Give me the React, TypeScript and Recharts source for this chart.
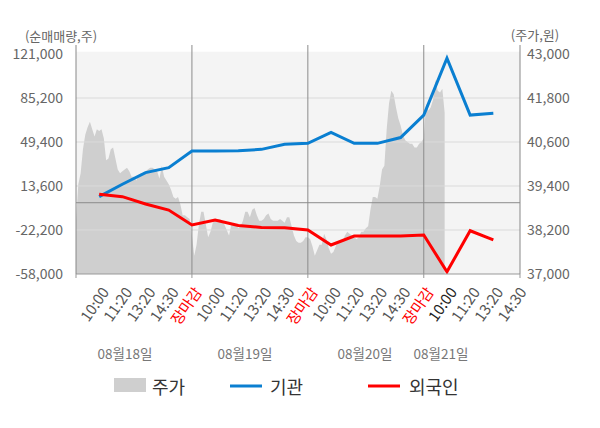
import React from "react";
import {
  ComposedChart, Area, Line, XAxis, YAxis, ReferenceLine, ReferenceArea,
} from "recharts";

// x axis: one slot per time label, day boundaries at 0, 5, 10, 15
const tickLabels = [
  "10:00", "11:20", "13:20", "14:30", "장마감",
  "10:00", "11:20", "13:20", "14:30", "장마감",
  "10:00", "11:20", "13:20", "14:30", "장마감",
  "10:00", "11:20", "13:20", "14:30",
];
const dayBoundaries = [0, 5, 10, 15];
const dateLabels = ["08월18일", "08월19일", "08월20일", "08월21일"];
const currentSlot = 16;

const leftTicks = [-58000, -22200, 13600, 49400, 85200, 121000];
const rightTicks = [37000, 38200, 39400, 40600, 41800, 43000];

// 순매매량 (주), one value per slot 1..18
const institution = [
  4900, 15000, 24500, 28500, 42100, 42100, 42300, 43400, 47500,
  48300, 57300, 48300, 48300, 53000, 71300, 117500, 71300, 72700,
];
const foreign = [
  6900, 4900, -1000, -6000, -18100, -14100, -18500, -20200, -20300,
  -22200, -34400, -27100, -27100, -27100, -26300, -56200, -22800, -30300,
];

// 주가 (원), sampled every 0.1 slot
const priceDay1 = [
  38450, 39450, 39750, 40400, 40800, 41000, 41150, 40950, 40750, 40950,
  40900, 40950, 40700, 40100, 40150, 40400, 40450, 40150, 39850, 39750,
  39800, 39850, 39900, 39800, 39650, 39650, 39550, 39700, 39750, 39750,
  39800, 39850, 39900, 39900, 39850, 39800, 39600, 39950, 39650, 39550,
  39450, 39300, 39100, 39050, 39100, 38900, 38600, 38600, 38550, 38500,
];
const priceDay2 = [
  38050, 37500, 37800, 38350, 38700, 38700, 38350, 38000, 38150, 38400,
  38450, 38500, 38500, 38450, 38350, 38200, 38050, 38350, 38400, 38350,
  38250, 38300, 38450, 38700, 38700, 38550, 38750, 38800, 38600, 38450,
  38450, 38500, 38600, 38650, 38500, 38450, 38450, 38450, 38500, 38450,
  38400, 38550, 38550, 38300, 38050, 37900, 37850, 37850, 37900, 38000,
];
const priceDay3 = [
  38000, 37950, 37750, 37500, 37650, 37800, 37800, 38100, 37950, 37700,
  37550, 37600, 37750, 37900, 37900, 37900, 38050, 38150, 38100, 38050,
  38000, 37950, 38000, 38150, 38150, 38250, 38300, 38750, 39100, 39100,
  39050, 39400, 39850, 39950, 40950, 41650, 42000, 41900, 41550, 41250,
  41050, 40800, 40650, 40600, 40550, 40550, 40450, 40450, 40550, 40600,
];
const priceDay4 = [40700, 41650, 41450, 41550, 41750, 42300, 42000, 41950, 42050, 41400];

const X_MAX = 19.15;
const FONT = "'Noto Sans CJK KR', 'Noto Sans', sans-serif";
const BLUE = "#0a7fd1";
const RED = "#ff0000";

const price = [...priceDay1, ...priceDay2, ...priceDay3, ...priceDay4];
const rows = new Map<number, Record<string, number>>();
price.forEach((p, k) => rows.set(k, { slot: k / 10, price: p }));
institution.forEach((v, i) => {
  const key = (i + 1) * 10;
  const r = rows.get(key) ?? { slot: i + 1 };
  r.inst = v;
  r.frgn = foreign[i];
  rows.set(key, r);
});
const chartData = [...rows.entries()].sort((a, b) => a[0] - b[0]).map((e) => e[1]);

const xTicks = [...tickLabels.map((_, i) => i), tickLabels.length, X_MAX];

function TimeTick(props: any) {
  const { x, y, payload } = props;
  const v = payload.value as number;
  const mark = dayBoundaries.includes(v) || v === X_MAX;
  const label = Number.isInteger(v) && v >= 1 ? tickLabels[v - 1] : null;
  const color = label === "장마감" ? RED : v === currentSlot ? "#222" : "#555";
  const ax = x + 2;
  const ay = y + 12;
  return (
    <g>
      {mark && <line x1={x} y1={y} x2={x} y2={y + 4} stroke="#999" />}
      {label && (
        <text x={ax} y={ay} transform={`rotate(-55 ${ax} ${ay})`} textAnchor="end" dy="0.71em"
          fontSize={15} fill={color} fontFamily={FONT}>
          {label}
        </text>
      )}
    </g>
  );
}

const fmt = (v: number) => v.toLocaleString("en-US");

export default function App() {
  return (
    <div style={{ position: "absolute", left: 0, top: 0, width: 600, height: 428, background: "#fff", fontFamily: FONT }}>
      <ComposedChart width={600} height={428} data={chartData} margin={{ top: 45, right: 0, bottom: 0, left: 0 }}>
        <XAxis type="number" dataKey="slot" domain={[0, X_MAX]} ticks={xTicks} interval={0}
          tick={<TimeTick />} tickLine={false} tickSize={0} tickMargin={0} height={154}
          axisLine={{ stroke: "#999" }} allowDataOverflow />
        <YAxis yAxisId="left" orientation="left" width={76} domain={[-58000, 128318]} ticks={leftTicks}
          tickFormatter={fmt} tickLine={false} tickSize={0} tickMargin={13} interval={0}
          axisLine={{ stroke: "#888" }} tick={{ fill: "#666", fontSize: 14, fontFamily: FONT }} allowDataOverflow />
        <YAxis yAxisId="right" orientation="right" width={80} domain={[37000, 43245]} ticks={rightTicks}
          tickFormatter={fmt} tickLine={false} tickSize={0} tickMargin={7} interval={0}
          axisLine={{ stroke: "#888" }} tick={{ fill: "#666", fontSize: 14, fontFamily: FONT }} allowDataOverflow />
        <ReferenceArea yAxisId="left" y1={-58000} y2={122900} fill="#f4f4f4" fillOpacity={1} stroke="none" zIndex={-200} />
        <Area yAxisId="right" type="linear" dataKey="price" fill="#cfcfcf" fillOpacity={1} stroke="none"
          isAnimationActive={false} zIndex={100} />
        {[85200, 49400, 13600, -22200].map((v) => (
          <ReferenceLine key={v} yAxisId="left" y={v} stroke="#dadada" zIndex={150} />
        ))}
        <ReferenceLine yAxisId="left" y={0} stroke="#8c8c8c" zIndex={150} />
        {dayBoundaries.slice(1).map((v) => (
          <ReferenceLine key={v} yAxisId="left" x={v} stroke="#8c8c8c" zIndex={150} />
        ))}
        <Line yAxisId="left" type="linear" dataKey="inst" stroke={BLUE} strokeWidth={3} dot={false}
          connectNulls isAnimationActive={false} zIndex={400} />
        <Line yAxisId="left" type="linear" dataKey="frgn" stroke={RED} strokeWidth={3} dot={false}
          connectNulls isAnimationActive={false} zIndex={400} />
      </ComposedChart>
      <svg width={600} height={428} style={{ position: "absolute", left: 0, top: 0, pointerEvents: "none" }}
        fontFamily={FONT}>
        <text x={61} y={35} textAnchor="middle" dominantBaseline="central" fontSize={13} fill="#666">(순매매량,주)</text>
        <text x={535} y={34} textAnchor="middle" dominantBaseline="central" fontSize={13} fill="#666">(주가,원)</text>
        {dateLabels.map((d, i) => (
          <text key={d} x={[125, 245, 365, 441][i]} y={353} textAnchor="middle" dominantBaseline="central"
            fontSize={13.5} fill="#777">{d}</text>
        ))}
        <rect x={114} y={378} width={32} height={14} fill="#cfcfcf" />
        <text x={152} y={386} dominantBaseline="central" fontSize={18} fill="#333">주가</text>
        <line x1={230} y1={386} x2={262} y2={386} stroke={BLUE} strokeWidth={3} />
        <text x={270} y={386} dominantBaseline="central" fontSize={18} fill="#333">기관</text>
        <line x1={368} y1={386} x2={400} y2={386} stroke={RED} strokeWidth={3} />
        <text x={409} y={386} dominantBaseline="central" fontSize={18} fill="#333">외국인</text>
      </svg>
    </div>
  );
}
